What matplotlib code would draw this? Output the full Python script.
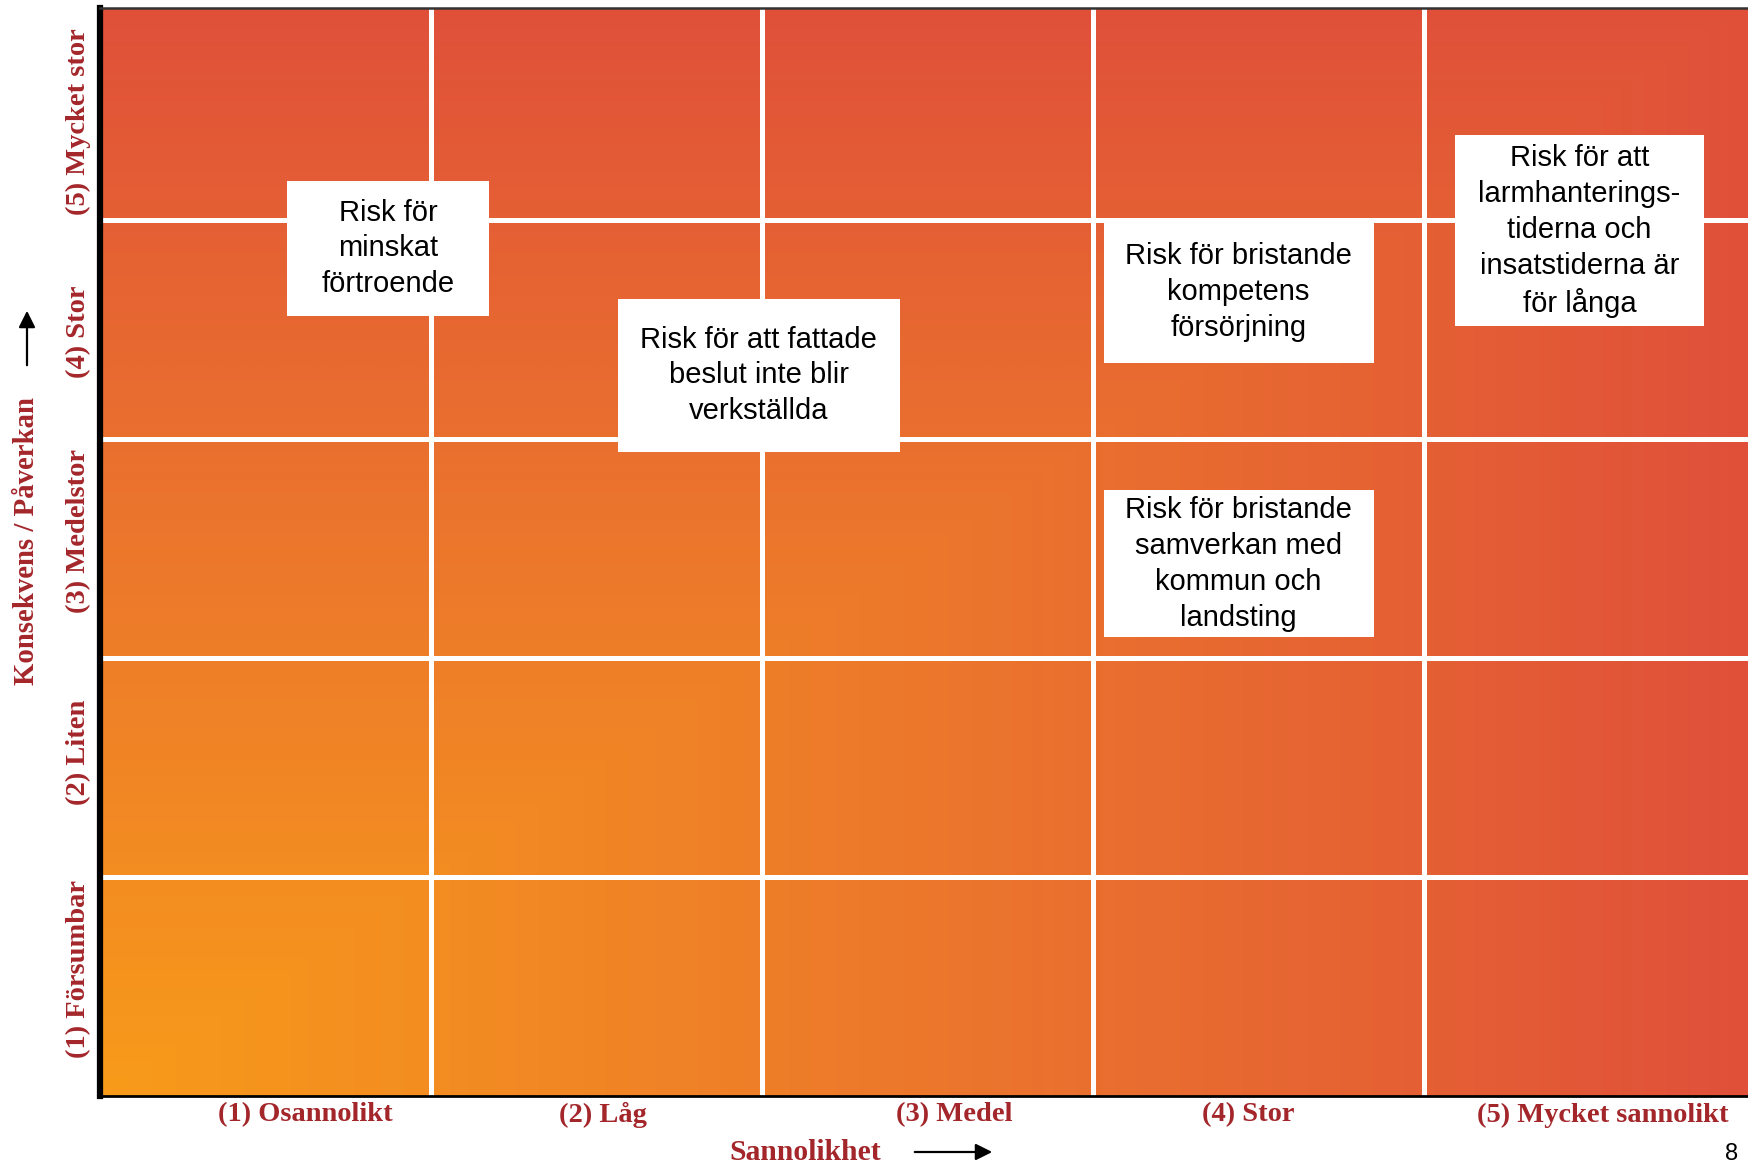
import matplotlib
matplotlib.use("Agg")
import matplotlib.pyplot as plt
from matplotlib.colors import LinearSegmentedColormap
from matplotlib.patches import Rectangle
import numpy as np

# likelihood (x) and consequence (y) scales
likelihood = ["(1) Osannolikt", "(2) Låg", "(3) Medel", "(4) Stor", "(5) Mycket sannolikt"]
consequence = ["(1) Försumbar", "(2) Liten", "(3) Medelstor", "(4) Stor", "(5) Mycket stor"]

# risks placed on the matrix (positions on the 0-5 scales)
risk_labels = [
    "Risk för\nminskat\nförtroende",
    "Risk för att fattade\nbeslut inte blir\nverkställda",
    "Risk för bristande\nkompetens\nförsörjning",
    "Risk för bristande\nsamverkan med\nkommun och\nlandsting",
    "Risk för att\nlarmhanterings-\ntiderna och\ninsatstiderna är\nför långa",
]
risk_likelihood = [0.87, 1.99, 3.44, 3.44, 4.47]
risk_consequence = [3.87, 3.29, 3.67, 2.43, 3.95]

# box sizes (width, height) in grid units
box_size = [(0.61, 0.62), (0.852, 0.70), (0.816, 0.645), (0.816, 0.67), (0.752, 0.872)]

RED_TXT = "#A3262A"
SERIF = ["Liberation Serif", "DejaVu Serif"]
SANS = ["Liberation Sans", "DejaVu Sans"]

fig = plt.figure(figsize=(17.49, 11.66), dpi=100)
ax = fig.add_axes([100 / 1749, 70 / 1166, 1649 / 1749, 1088 / 1166])

# rectangular gradient from the lower left corner
cmap = LinearSegmentedColormap.from_list("risk", ["#F89B1A", "#EC772C", "#E0503A"])
n = 400
xs = np.linspace(0, 5, n)
ys = np.linspace(0, 5, n)
X, Y = np.meshgrid(xs, ys)
T = np.maximum(X, Y) / 5
ax.imshow(T, extent=(0, 5, 0, 5), origin="lower", cmap=cmap, vmin=0, vmax=1,
          aspect="auto", interpolation="bilinear", zorder=0)

for i in range(1, 5):
    ax.axvline(i, color="white", lw=3.6, zorder=1)
    ax.axhline(i, color="white", lw=3.6, zorder=1)

ax.set_xlim(0, 1649 / 331)
ax.set_ylim(0, 1088 / 219)
ax.set_xticks([])
ax.set_yticks([])

ax.spines["right"].set_visible(False)
ax.spines["left"].set_linewidth(4.5)
ax.spines["left"].set_color("black")
ax.spines["bottom"].set_linewidth(2)
ax.spines["top"].set_linewidth(1.8)
ax.spines["top"].set_color("#333333")

# risk boxes
for lab, x, y, (w, h) in zip(risk_labels, risk_likelihood, risk_consequence, box_size):
    ax.add_patch(Rectangle((x - w / 2, y - h / 2), w, h, facecolor="white",
                           edgecolor="none", zorder=3))
    ax.text(x, y, lab, ha="center", va="center", fontsize=21, family=SANS,
            linespacing=1.36, color="black", zorder=4)

# consequence labels (not quite centred on the rows in the original)
y_lab_pos = [0.58, 1.57, 2.58, 3.49, 4.45]
for y, lab in zip(y_lab_pos, consequence):
    ax.text(-0.0128, y, lab, transform=ax.get_yaxis_transform(), rotation=90,
            ha="center", va="center", fontsize=20.5, fontweight="bold",
            family=SERIF, color=RED_TXT)

# likelihood labels (sit a bit off the column centres in the original)
x_lab_pos = [0.62, 1.52, 2.58, 3.47, 4.54]
for x, lab in zip(x_lab_pos, likelihood):
    ax.text(x, -0.0175, lab, transform=ax.get_xaxis_transform(), ha="center",
            va="center", fontsize=20.5, fontweight="bold", family=SERIF, color=RED_TXT)

# axis titles with arrows
fig.text(805 / 1749, 1 - 1152 / 1166, "Sannolikhet", ha="center", va="center",
         fontsize=21.3, fontweight="bold", family=SERIF, color=RED_TXT)
fig.patches.append(matplotlib.patches.FancyArrowPatch(
    (912 / 1749, 1 - 1152 / 1166), (995 / 1749, 1 - 1152 / 1166),
    transform=fig.transFigure, arrowstyle="-|>", mutation_scale=25, lw=1.6, color="black"))

fig.text(27 / 1749, 1 - 541 / 1166, "Konsekvens / Påverkan", rotation=90, ha="center",
         va="center", fontsize=20.7, fontweight="bold", family=SERIF, color=RED_TXT)
fig.patches.append(matplotlib.patches.FancyArrowPatch(
    (27 / 1749, 1 - 368 / 1166), (27 / 1749, 1 - 308 / 1166),
    transform=fig.transFigure, arrowstyle="-|>", mutation_scale=25, lw=1.6, color="black"))

# page number
fig.text(1732 / 1749, 1 - 1154 / 1166, "8", ha="center", va="center", fontsize=17,
         family=SANS, color="black")

fig.savefig("out.png", dpi=100)
